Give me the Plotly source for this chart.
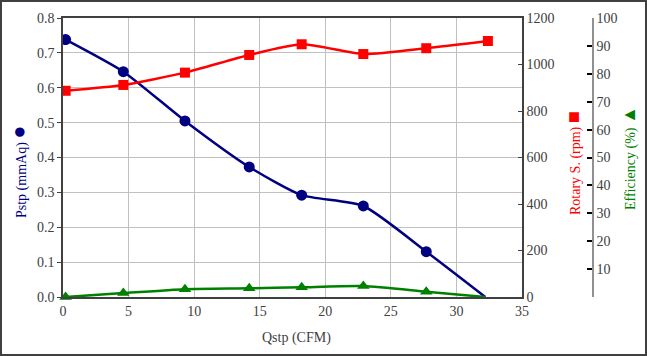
import plotly.graph_objects as go

# Data
qstp = [0.2, 4.6, 9.3, 14.2, 18.2, 22.9, 27.7, 32.2]
pstp = [0.738, 0.646, 0.505, 0.373, 0.292, 0.261, 0.130, 0.0]
rpm_x = [0.2, 4.6, 9.3, 14.2, 18.2, 22.9, 27.7, 32.4]
rpm = [887, 912, 965, 1041, 1087, 1045, 1070, 1101]
eff = [0.0, 1.4, 2.8, 3.1, 3.5, 3.9, 1.9, 0.0]

x_ticks = [0, 5, 10, 15, 20, 25, 30, 35]
eff_ticks = [0, 10, 20, 30, 40, 50, 60, 70, 80, 90, 100]
eff_ticktext = [""] + [str(v) for v in eff_ticks[1:]]

NAVY = "#000080"
RED = "#FF0000"
GREEN = "#008000"
FONT = "Liberation Serif, Times New Roman, serif"
TICKC = "#404040"

W, H = 647, 356
L, R, T, B = 63, 54, 18, 59
pw = W - L - R
ph = H - T - B
xdom_end = (522 - 63) / pw

def px(xp):
    return (xp - L) / pw

def py(yp):
    return (H - B - yp) / ph

fig = go.Figure()

fig.add_trace(go.Scatter(
    x=qstp, y=pstp, mode="lines+markers", line=dict(color=NAVY, width=2.5, shape="spline", smoothing=0.6),
    marker=dict(symbol="circle", size=[11] * 7 + [0], color=NAVY, opacity=1, line=dict(width=0)),
    yaxis="y", showlegend=False))
fig.add_trace(go.Scatter(
    x=rpm_x, y=rpm, mode="lines+markers", line=dict(color=RED, width=2.5, shape="spline", smoothing=0.6),
    marker=dict(symbol="square", size=10, color=RED, opacity=1, line=dict(width=0)),
    yaxis="y2", showlegend=False))
fig.add_trace(go.Scatter(
    x=qstp, y=eff, mode="lines+markers", line=dict(color=GREEN, width=2.5, shape="spline", smoothing=0.6),
    marker=dict(symbol="triangle-up", size=[11] * 7 + [0], color=GREEN, opacity=1, line=dict(width=0)),
    yaxis="y3", showlegend=False, cliponaxis=False))

fig.update_layout(
    template="none",
    width=W, height=H,
    margin=dict(l=L, r=R, t=T, b=B, autoexpand=False),
    paper_bgcolor="white", plot_bgcolor="white",
    font=dict(family=FONT, size=14, color=TICKC),
    xaxis=dict(domain=[0, xdom_end], range=[0, 35], tickvals=x_ticks, automargin=False,
               showgrid=True, gridcolor="#c0c0c0", gridwidth=1,
               showline=True, linecolor="#404040", linewidth=1.5, mirror=True,
               ticks="", zeroline=False,
               tickfont=dict(family=FONT, size=14, color=TICKC)),
    yaxis=dict(range=[0, 0.8], dtick=0.1, tickformat=".1f", automargin=False,
               showgrid=True, gridcolor="#c0c0c0", gridwidth=1,
               showline=True, linecolor="#404040", linewidth=1.5,
               ticks="outside", ticklen=4, tickcolor="#404040", zeroline=False,
               tickfont=dict(family=FONT, size=14, color=TICKC)),
    yaxis2=dict(range=[0, 1200], dtick=200, overlaying="y", side="right", anchor="x",
                automargin=False, showgrid=False, showline=True, linecolor="#404040", linewidth=1.5,
                ticks="inside", ticklen=4, tickcolor="#404040", zeroline=False,
                tickfont=dict(family=FONT, size=14, color=TICKC)),
    yaxis3=dict(range=[0, 100], tickvals=eff_ticks, ticktext=eff_ticktext, overlaying="y",
                side="right", anchor="free", position=1.0, automargin=False,
                showgrid=False, showline=True, linecolor="#909090", linewidth=1.5,
                ticks="inside", ticklen=5, tickcolor="#000000", tickwidth=1.5, zeroline=False,
                tickfont=dict(family=FONT, size=14, color=TICKC)),
)

ann = [
    dict(text="Qstp (CFM)", x=px(296), y=py(338), font=dict(color=TICKC, size=14, family=FONT)),
    dict(text="Pstp (mmAq) <span style='font-size:22px'>●</span>", x=px(18), y=py(172),
         textangle=-90, font=dict(color=NAVY, size=14, family=FONT)),
    dict(text="Rotary S. (rpm) <span style='font-size:20px'>■</span>", x=px(573), y=py(163),
         textangle=-90, font=dict(color=RED, size=14, family=FONT)),
    dict(text="Efficiency (%) <span style='font-size:18px'>▲</span>", x=px(629), y=py(158),
         textangle=-90, font=dict(color=GREEN, size=14, family=FONT)),
]
for a in ann:
    fig.add_annotation(xref="paper", yref="paper", showarrow=False,
                       xanchor="center", yanchor="middle", **a)

fig.add_shape(type="rect", xref="paper", yref="paper",
              x0=px(1), x1=px(646), y0=py(355), y1=py(1),
              line=dict(color="#404040", width=2), fillcolor="rgba(0,0,0,0)", layer="above")

fig.write_html("out.html", config={"displayModeBar": False},
               post_script="document.body.style.margin='0';")
